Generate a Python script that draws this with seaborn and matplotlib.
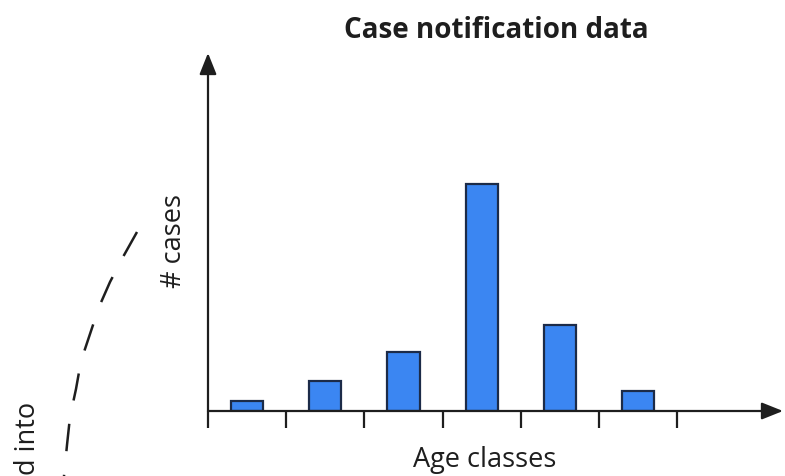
import matplotlib
matplotlib.use("Agg")
import matplotlib.pyplot as plt
import numpy as np
import seaborn as sns

# bars (arbitrary count units, no y scale shown)
age_classes = ["class 1", "class 2", "class 3", "class 4", "class 5", "class 6"]
cases = [10, 30, 59, 227, 86, 20]

# dashed link on the left edge (figure pixels, y down)
link_x = [137, 123, 110, 99, 90, 81, 76, 70, 67, 64]
link_y = [232, 257, 282, 307, 334, 361, 389, 417, 445, 476]

BAR_COLOR = "#3b86f2"
EDGE_COLOR = "#1c2b48"
INK = "#1e1e1e"

sns.set_theme(style="white")
plt.rcParams["font.family"] = ["Open Sans", "DejaVu Sans"]

W, H = 785, 476
fig = plt.figure(figsize=(W / 100, H / 100), dpi=100)

# main axes: y axis at x=208, x axis at y=411, arrows end at x=783 / y=53
left, right, bottom, top = 208, 783, 411, 53
ax = fig.add_axes([left / W, 1 - bottom / H, (right - left) / W, (bottom - top) / H])

sns.barplot(x=age_classes, y=cases, color=BAR_COLOR, edgecolor=EDGE_COLOR,
            linewidth=1.6, width=0.41, saturation=1, ax=ax)

bin_px = 78.2
ax.set_xlim(-0.5, -0.5 + (right - left) / bin_px)
ax.set_ylim(0, bottom - top)

edges = np.arange(len(age_classes) + 1) - 0.5
ax.set_xticks(edges)
ax.set_xticklabels([""] * len(edges))
ax.set_yticks([])
ax.tick_params(axis="x", direction="out", length=12.5, width=1.6, color=INK,
               bottom=True)
for s in ax.spines.values():
    s.set_visible(False)
ax.set_xlabel("")
ax.set_ylabel("")

arrow = dict(arrowstyle="-|>,head_length=0.65,head_width=0.26",
             color=INK, lw=1.6, mutation_scale=20, shrinkA=0, shrinkB=0)
ax.annotate("", xy=(1, 0), xytext=(0, 0), xycoords="axes fraction",
            textcoords="axes fraction", arrowprops=arrow, annotation_clip=False)
ax.annotate("", xy=(0, 1), xytext=(0, 0), xycoords="axes fraction",
            textcoords="axes fraction", arrowprops=arrow, annotation_clip=False)

# texts
fig.text(496 / W, 1 - 30 / H, "Case notification data", ha="center", va="center",
         fontsize=20, fontweight="bold", color=INK)
fig.text(485 / W, 1 - 460 / H, "Age classes", ha="center", va="center",
         fontsize=19.5, color=INK)
fig.text(174 / W, 1 - 241 / H, "# cases", ha="center", va="center",
         rotation=90, fontsize=19.5, color=INK)
fig.text(28 / W, 1 - 475 / H, "d into", ha="center", va="bottom",
         rotation=90, fontsize=19.5, color=INK)

# overlay in pixel coordinates for the dashed link
ov = fig.add_axes([0, 0, 1, 1], facecolor="none")
ov.set_xlim(0, W)
ov.set_ylim(H, 0)
ov.axis("off")
ov.plot(link_x, link_y, color=INK, lw=1.8, linestyle=(0, (11, 9.5)),
        solid_capstyle="butt", dash_capstyle="butt")

fig.savefig("out.png", dpi=100)
